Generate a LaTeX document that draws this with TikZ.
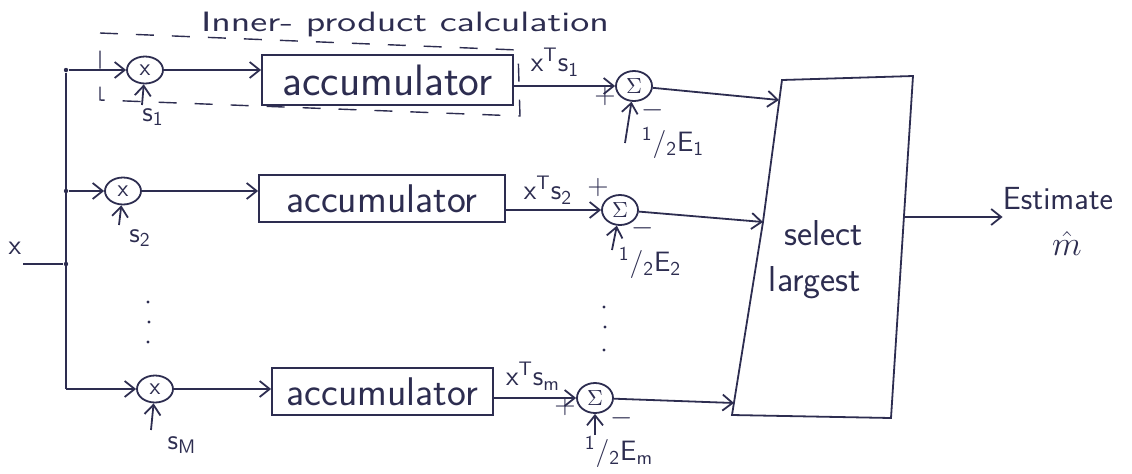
\documentclass[tikz,border=0pt]{standalone}
\usepackage{fontspec}
\usetikzlibrary{arrows.meta,shapes.geometric,calc}
\definecolor{ink}{RGB}{45,45,80}
\begin{document}
\begin{tikzpicture}[x=0.5pt,y=-0.5pt,
  every node/.style={text=ink, font=\sffamily},
  wire/.style={draw=ink, line width=0.9pt},
  arr/.style={wire, -{Straight Barb[length=5pt,width=8pt]}},
  mult/.style={ellipse, draw=ink, line width=0.9pt, minimum width=18pt, minimum height=13.5pt, inner sep=0pt, font=\sffamily\fontsize{12}{12}\selectfont},
  summ/.style={ellipse, draw=ink, line width=0.9pt, minimum width=18pt, minimum height=15pt, inner sep=0pt, font=\fontsize{11}{12}\selectfont},
  accbox/.style={rectangle, draw=ink, line width=0.9pt, inner sep=0pt},
  lbl/.style={font=\sffamily\fontsize{14}{16}\selectfont, inner sep=0pt},
  big/.style={font=\sffamily\fontsize{18}{20}\selectfont, inner sep=0pt},
  dotmark/.style={circle, fill=ink, inner sep=0pt, minimum size=2.2pt},
  dashedge/.style={draw=ink, line width=0.7pt, dash pattern=on 9pt off 9pt},
]
\useasboundingbox (0,0) rectangle (1132,473);

% title and dashed region
\node[inner sep=0pt, font=\sffamily\fontsize{14}{16}\selectfont\addfontfeature{LetterSpace=15}] (title) at (405,24) {\scalebox{1.39}[1]{Inner- product calculation}};
\draw[dashedge] (100,33) -- (518,50) -- (520,116) -- (100,100) -- cycle;

% input and bus
\node[lbl] (xin) at (15,248) {x};
\coordinate (xs) at (23,264);
\node[dotmark] (bx) at (66,264) {};
\node[dotmark] (b1) at (66,70) {};
\node[dotmark] (b2) at (66,191) {};
\coordinate (bM) at (66,389);
\draw[wire] (xs) -- (bx);
\draw[wire] (b1) -- (bM);

% multipliers
\node[mult] (m1) at (145,70) {x};
\node[mult] (m2) at (123,191) {x};
\node[mult] (mM) at (155,389) {x};
\draw[arr] (b1) -- (m1);
\draw[arr] (b2) -- (m2);
\draw[arr] (bM) -- (mM);

% signal inputs
\node[lbl] (s1) at (153,117) {s\textsubscript{1}};
\node[lbl] (s2) at (140,238) {s\textsubscript{2}};
\node[lbl] (sM) at (182,445) {s\textsubscript{M}};
\coordinate (t1) at (142,105);
\coordinate (t2) at (119,225);
\coordinate (tM) at (151,430);
\draw[arr] (t1) -- (m1);
\draw[arr] (t2) -- (m2);
\draw[arr] (tM) -- (mM);

% accumulators
\node[accbox, minimum width=125.5pt, minimum height=25pt, font=\sffamily\fontsize{22}{24}\selectfont] (acc1) at (387.5,80) {accumulator};
\node[accbox, minimum width=123pt, minimum height=23.5pt, font=\sffamily\fontsize{20}{22}\selectfont] (acc2) at (382,198.5) {accumulator};
\node[accbox, minimum width=110.5pt, minimum height=23.5pt, font=\sffamily\fontsize{20}{22}\selectfont] (accM) at (382.5,391.5) {accumulator};
\draw[arr] (m1) -- (acc1.west |- m1);
\draw[arr] (m2) -- (acc2.west |- m2);
\draw[arr] (mM) -- (accM.west |- mM);

% summers
\node[summ] (S1) at (634,86) {$\Sigma$};
\node[summ] (S2) at (620,210) {$\Sigma$};
\node[summ] (SM) at (595,398) {$\Sigma$};
\draw[arr] (acc1.east |- S1) -- (S1);
\draw[arr] (acc2.east |- S2) -- (S2);
\draw[arr] (accM.east |- SM) -- (SM);
\node[lbl] (p1) at (555,62) {x\textsuperscript{T}s\textsubscript{1}};
\node[lbl] (p2) at (548,190) {x\textsuperscript{T}s\textsubscript{2}};
\node[lbl] (pM) at (533,376) {x\textsuperscript{T}s\textsubscript{m}};
\node[lbl] (pl1) at (605,97) {+};
\node[lbl] (mi1) at (653,110) {$-$};
\node[lbl] (pl2) at (598,188) {+};
\node[lbl] (mi2) at (643,228) {$-$};
\node[lbl] (plM) at (565,407) {+};
\node[lbl] (miM) at (622,418) {$-$};
\node[lbl] (E1) at (673,143) {\textsuperscript{1}/\textsubscript{2}E\textsubscript{1}};
\node[lbl] (E2) at (650,263) {\textsuperscript{1}/\textsubscript{2}E\textsubscript{2}};
\node[lbl] (EM) at (619,452) {\textsuperscript{1}/\textsubscript{2}E\textsubscript{m}};
\coordinate (e1) at (625,143);
\coordinate (e2) at (612,250);
\coordinate (eM) at (595,435);
\draw[arr] (e1) -- (S1);
\draw[arr] (e2) -- (S2);
\draw[arr] (eM) -- (SM);

% dots
\node[dotmark, minimum size=1.6pt] (dl1) at (148,302) {};
\node[dotmark, minimum size=1.6pt] (dl2) at (149,322) {};
\node[dotmark, minimum size=1.6pt] (dl3) at (148,342) {};
\node[dotmark, minimum size=1.6pt] (dr1) at (604,307) {};
\node[dotmark, minimum size=1.6pt] (dr2) at (605,327) {};
\node[dotmark, minimum size=1.6pt] (dr3) at (604,350) {};

% select largest
\coordinate (sTL) at (782,80);
\coordinate (sTR) at (913,76);
\coordinate (sBR) at (891,418);
\coordinate (sBL) at (732,415);
\coordinate (sML) at (763,222);
\draw[wire] (sBL) -- (sML) -- (sTL) -- (sTR) -- (sBR) -- cycle;
\node[big] (sel1) at (824,233) {select};
\node[big] (sel2) at (815,283) {largest};
\coordinate (in1) at (779,100);
\coordinate (in2) at (763,222);
\coordinate (inM) at (734,403);
\draw[arr] (S1) -- (in1);
\draw[arr] (S2) -- (in2);
\draw[arr] (SM) -- (inM);

% output
\node[inner sep=0pt, font=\sffamily\fontsize{16}{18}\selectfont] (est) at (1058,199) {Estimate};
\node[inner sep=0pt, font=\fontsize{16}{18}\selectfont] (mhat) at (1067,243) {$\hat{m}$};
\coordinate (out0) at (904,217);
\draw[arr] (out0) -- (est.west |- out0);
\end{tikzpicture}
\end{document}
